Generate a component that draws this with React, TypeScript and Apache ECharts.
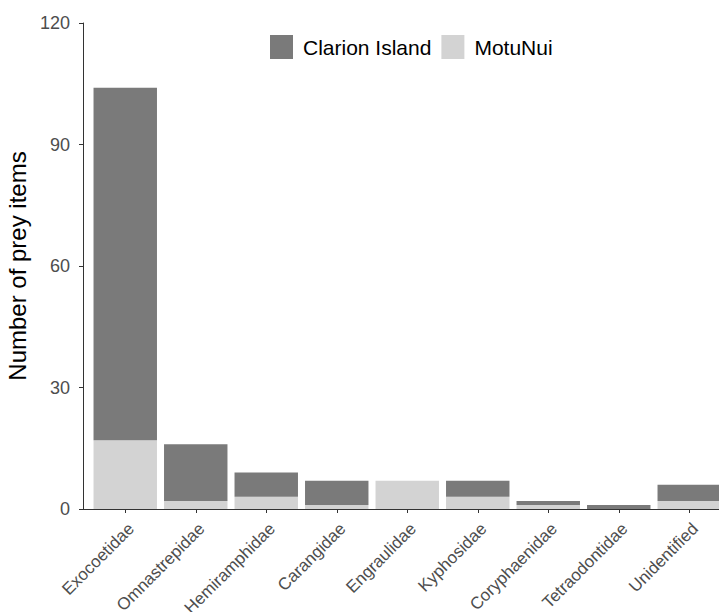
import React, { useEffect, useRef } from "react";
import * as echarts from "echarts";

const categories = [
  "Exocoetidae",
  "Omnastrepidae",
  "Hemiramphidae",
  "Carangidae",
  "Engraulidae",
  "Kyphosidae",
  "Coryphaenidae",
  "Tetraodontidae",
  "Unidentified",
];
const clarionIsland = [87, 14, 6, 6, 0, 4, 1, 1, 4];
const motuNui = [17, 2, 3, 1, 7, 3, 1, 0, 2];
const yTicks = { min: 0, max: 120, interval: 30 };

const FONT = "Liberation Sans, Arial, sans-serif";

export default function App() {
  const ref = useRef<HTMLDivElement>(null);
  useEffect(() => {
    document.body.style.margin = "0";
    if (!ref.current) return;
    const chart = echarts.init(ref.current, null, { renderer: "svg" });
    chart.setOption({
      animation: false,
      backgroundColor: "#ffffff",
      textStyle: { fontFamily: FONT },
      legend: {
        top: 30,
        left: 265,
        itemWidth: 23,
        itemHeight: 24,
        itemGap: 10,
        icon: "rect",
        data: ["Clarion Island", "MotuNui"],
        textStyle: { fontSize: 21, color: "#000000", fontFamily: FONT, padding: [0, 0, 0, 5] },
      },
      grid: {
        left: 90,
        width: 634.5,
        top: 23,
        bottom: 103,
        containLabel: false,
        outerBoundsMode: "none",
      },
      xAxis: {
        type: "category",
        data: categories,
        axisLine: { show: false },
        axisTick: { show: true, length: 4, alignWithLabel: true, lineStyle: { color: "#333333" } },
        axisLabel: {
          rotate: 45,
          interval: 0,
          fontSize: 17,
          color: "#4d4d4d",
          margin: 11,
          verticalAlign: "top",
          align: "right",
          fontFamily: FONT,
        },
      },
      yAxis: {
        type: "value",
        min: yTicks.min,
        max: yTicks.max,
        interval: yTicks.interval,
        offset: 7,
        name: "Number of prey items",
        nameLocation: "middle",
        nameGap: 48,
        nameTextStyle: { fontSize: 24, color: "#000000", fontFamily: FONT },
        splitLine: { show: false },
        axisLine: { show: true, lineStyle: { color: "#333333", width: 1 } },
        axisTick: { show: true, length: 4, lineStyle: { color: "#333333" } },
        axisLabel: { fontSize: 18, color: "#4d4d4d", margin: 13, fontFamily: FONT },
      },
      graphic: [
        {
          type: "line",
          shape: { x1: 83, y1: 509.5, x2: 719, y2: 509.5 },
          style: { stroke: "#333333", lineWidth: 1 },
          z: 100,
        },
      ],
      series: [
        {
          name: "MotuNui",
          type: "bar",
          stack: "total",
          data: motuNui,
          barCategoryGap: "10%",
          itemStyle: { color: "#d3d3d3" },
        },
        {
          name: "Clarion Island",
          type: "bar",
          stack: "total",
          data: clarionIsland,
          barCategoryGap: "10%",
          itemStyle: { color: "#7a7a7a" },
        },
      ],
    });
    return () => chart.dispose();
  }, []);
  return <div ref={ref} style={{ width: 719, height: 612 }} />;
}
